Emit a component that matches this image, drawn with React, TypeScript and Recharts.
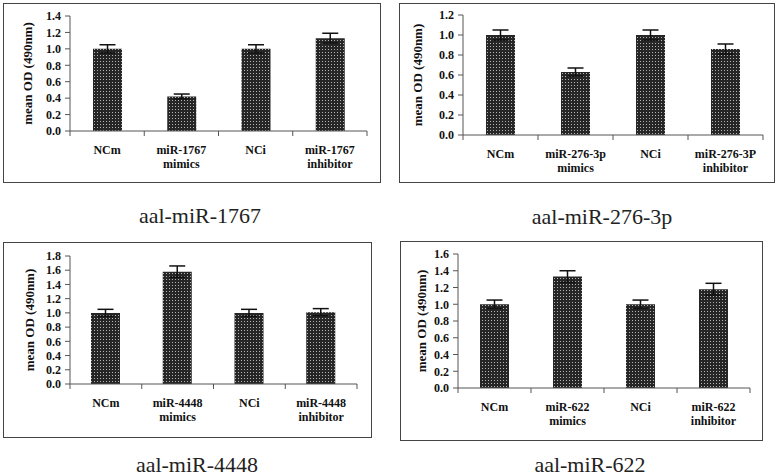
import { BarChart, Bar, XAxis, YAxis, ErrorBar } from 'recharts';

const groups1 = ['NCm', 'miR-1767\nmimics', 'NCi', 'miR-1767\ninhibitor'];
const means1 = [1.0, 0.42, 1.0, 1.13];
const errs1 = [0.05, 0.03, 0.05, 0.06];
const ticks1 = [0, 0.2, 0.4, 0.6, 0.8, 1.0, 1.2, 1.4];

const groups2 = ['NCm', 'miR-276-3p\nmimics', 'NCi', 'miR-276-3P\ninhibitor'];
const means2 = [1.0, 0.63, 1.0, 0.86];
const errs2 = [0.05, 0.04, 0.05, 0.05];
const ticks2 = [0, 0.2, 0.4, 0.6, 0.8, 1.0, 1.2];

const groups3 = ['NCm', 'miR-4448\nmimics', 'NCi', 'miR-4448\ninhibitor'];
const means3 = [1.0, 1.58, 1.0, 1.01];
const errs3 = [0.05, 0.08, 0.05, 0.05];
const ticks3 = [0, 0.2, 0.4, 0.6, 0.8, 1.0, 1.2, 1.4, 1.6, 1.8];

const groups4 = ['NCm', 'miR-622\nmimics', 'NCi', 'miR-622\ninhibitor'];
const means4 = [1.0, 1.33, 1.0, 1.18];
const errs4 = [0.05, 0.07, 0.05, 0.07];
const ticks4 = [0, 0.2, 0.4, 0.6, 0.8, 1.0, 1.2, 1.4, 1.6];

const titles = ['aal-miR-1767', 'aal-miR-276-3p', 'aal-miR-4448', 'aal-miR-622'];

const SERIF = '"Liberation Serif", "DejaVu Serif", serif';

interface PanelProps {
  groups: string[];
  means: number[];
  errs: number[];
  ticks: number[];
  title: string;
  box: { left: number; top: number; w: number; h: number };
  plot: { x: number; right: number; top: number; bottom: number };
  labelX: number;
  titleX: number;
  titleY: number;
}

function Panel({ groups, means, errs, ticks, title, box, plot, labelX, titleX, titleY }: PanelProps) {
  const data = groups.map((g, i) => ({ group: g, mean: means[i], err: errs[i] }));
  const band = (plot.right - plot.x) / groups.length;

  const renderTick = (props: any) => {
    const { x, y, payload, index } = props;
    const lines = String(payload.value).split('\n');
    return (
      <g>
        <line x1={x - band / 2} x2={x - band / 2} y1={y} y2={y + 5} stroke="#555" />
        {index === groups.length - 1 && (
          <line x1={x + band / 2} x2={x + band / 2} y1={y} y2={y + 5} stroke="#555" />
        )}
        {lines.map((l, i) => (
          <text
            key={i}
            x={x}
            y={y + 23 + i * 14}
            textAnchor="middle"
            fontFamily={SERIF}
            fontWeight="bold"
            fontSize={12}
            fill="#111"
          >
            {l}
          </text>
        ))}
      </g>
    );
  };

  const renderLabel = (props: any) => {
    const vb = props.viewBox;
    const cx = labelX - box.left + 4;
    const cy = plot.top - box.top + (plot.bottom - plot.top) / 2;
    return (
      <text
        x={cx}
        y={cy}
        transform={`rotate(-90 ${cx} ${cy})`}
        textAnchor="middle"
        fontFamily={SERIF}
        fontWeight="bold"
        fontSize={13}
        fill="#111"
        data-vb={vb ? vb.x : 0}
      >
        mean OD (490nm)
      </text>
    );
  };

  return (
    <>
      <div
        style={{
          position: 'absolute',
          left: box.left,
          top: box.top,
          width: box.w,
          height: box.h,
          border: '1.5px solid #444',
          boxSizing: 'border-box',
        }}
      />
      <div style={{ position: 'absolute', left: box.left, top: box.top }}>
        <BarChart
          width={box.w}
          height={box.h}
          data={data}
          margin={{ top: plot.top - box.top, right: box.left + box.w - plot.right, left: 0, bottom: 0 }}
          barSize={29}
        >
          <XAxis
            dataKey="group"
            interval={0}
            height={box.top + box.h - plot.bottom}
            tickLine={false}
            tickSize={0}
            tickMargin={0}
            stroke="#555"
            tick={renderTick}
          />
          <YAxis
            width={plot.x - box.left}
            domain={[0, ticks[ticks.length - 1]]}
            ticks={ticks}
            interval={0}
            tickFormatter={(v: number) => v.toFixed(1)}
            stroke="#555"
            tickSize={5}
            tickMargin={4}
            tick={{ fontFamily: SERIF, fontWeight: 'bold', fontSize: 12, fill: '#111' }}
            label={{ content: renderLabel }}
          />
          <Bar dataKey="mean" fill="url(#dots)" isAnimationActive={false}>
            <ErrorBar dataKey="err" direction="y" width={8} stroke="#111" strokeWidth={1.5} />
          </Bar>
        </BarChart>
      </div>
      <div
        style={{
          position: 'absolute',
          left: titleX - 120,
          width: 240,
          top: titleY - 14,
          textAlign: 'center',
          fontFamily: SERIF,
          fontSize: 22,
          lineHeight: '28px',
          color: '#222',
        }}
      >
        {title}
      </div>
    </>
  );
}

export default function App() {
  return (
    <div
      style={{
        position: 'absolute',
        left: 0,
        top: 0,
        width: 778,
        height: 476,
        background: '#fff',
        overflow: 'hidden',
      }}
    >
      <svg width="0" height="0" style={{ position: 'absolute' }}>
        <defs>
          <pattern id="dots" patternUnits="userSpaceOnUse" width="3" height="3">
            <rect width="3" height="3" fill="#262626" />
            <rect x="1" y="1" width="1" height="1" fill="#b5b5b5" />
          </pattern>
        </defs>
      </svg>
      <Panel
        groups={groups1}
        means={means1}
        errs={errs1}
        ticks={ticks1}
        title={titles[0]}
        box={{ left: 3, top: 3, w: 378, h: 180 }}
        plot={{ x: 70, right: 367, top: 16, bottom: 131 }}
        labelX={28}
        titleX={200}
        titleY={216}
      />
      <Panel
        groups={groups2}
        means={means2}
        errs={errs2}
        ticks={ticks2}
        title={titles[1]}
        box={{ left: 399, top: 3, w: 376, h: 180 }}
        plot={{ x: 463, right: 763, top: 15, bottom: 135 }}
        labelX={418}
        titleX={602}
        titleY={217}
      />
      <Panel
        groups={groups3}
        means={means3}
        errs={errs3}
        ticks={ticks3}
        title={titles[2]}
        box={{ left: 3, top: 242, w: 369, h: 196 }}
        plot={{ x: 70, right: 357, top: 256, bottom: 384 }}
        labelX={30}
        titleX={197}
        titleY={465}
      />
      <Panel
        groups={groups4}
        means={means4}
        errs={errs4}
        ticks={ticks4}
        title={titles[3]}
        box={{ left: 400, top: 241, w: 363, h: 200 }}
        plot={{ x: 458, right: 750, top: 254, bottom: 388 }}
        labelX={422}
        titleX={590}
        titleY={465}
      />
    </div>
  );
}
